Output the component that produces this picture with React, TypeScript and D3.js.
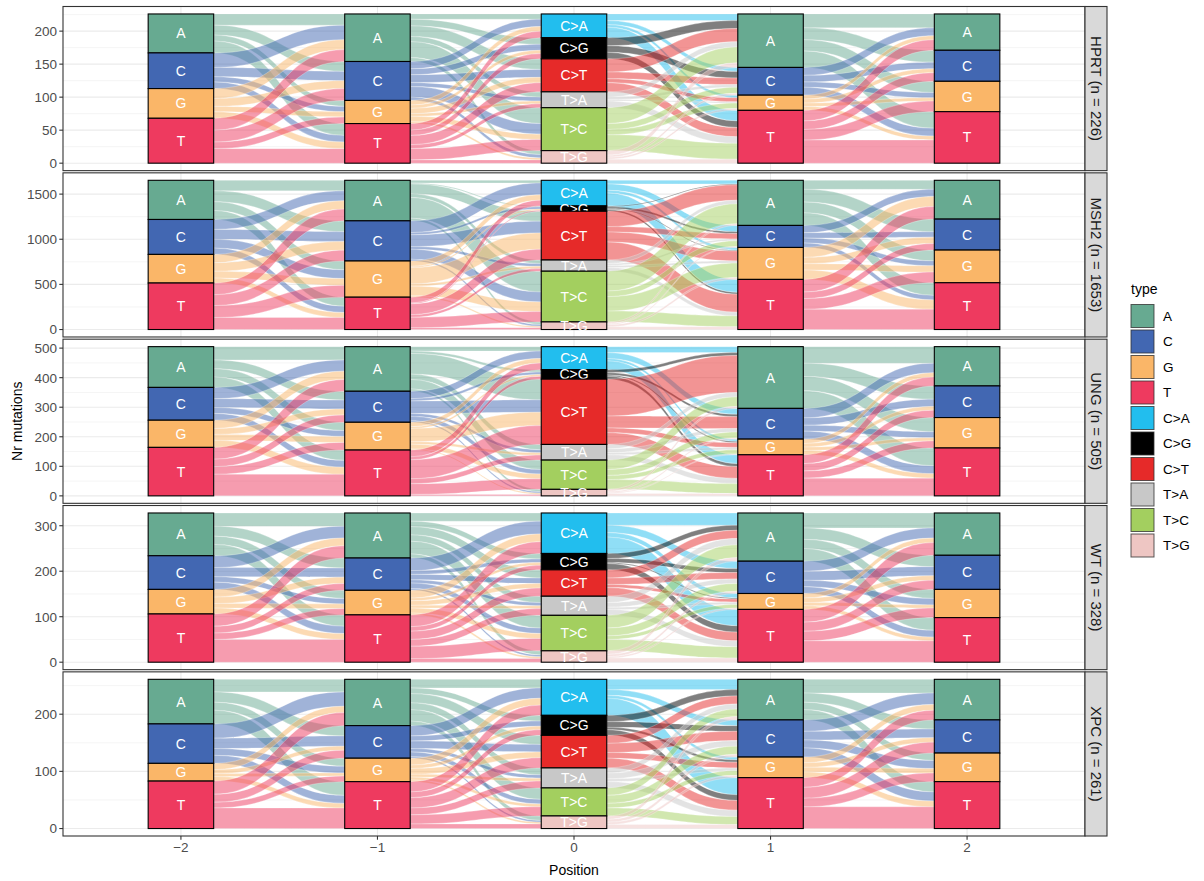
import React from "react";
import * as d3 from "d3";

// ---------- data ----------
const positions = [-2, -1, 0, 1, 2];
const baseTypes = ["A", "C", "G", "T"];
const mutTypes = ["C>A", "C>G", "C>T", "T>A", "T>C", "T>G"];
const legendTypes = ["A", "C", "G", "T", "C>A", "C>G", "C>T", "T>A", "T>C", "T>G"];
const legendColors = [
  "#67AA91", "#4267B2", "#FAB668", "#EE3A5F",
  "#22BEEE", "#000000", "#E62A29", "#C8C8C8", "#A3CF5F", "#EEC6C3",
];
const facetNames = ["HPRT", "MSH2", "UNG", "WT", "XPC"];

// y-axis tick labels per facet
const hprtTicks = [0, 50, 100, 150, 200];
const msh2Ticks = [0, 500, 1000, 1500];
const ungTicks = [0, 100, 200, 300, 400, 500];
const wtTicks = [0, 100, 200, 300];
const xpcTicks = [0, 100, 200];

// Flow counts between neighbouring positions, rows = left strata, cols = right strata.
// Order per facet: (-2 -> -1), (-1 -> 0), (0 -> 1), (1 -> 2)
const hprtFlows = [
  [[17, 15, 9, 18], [22, 14, 8, 10], [15, 12, 8, 10], [18, 18, 10, 22]],
  [[8, 10, 16, 8, 24, 6], [11, 9, 12, 6, 16, 5], [7, 5, 8, 4, 8, 3], [10, 8, 14, 6, 17, 5]],
  [[10, 6, 4, 16], [12, 10, 0, 10], [20, 10, 6, 14], [8, 4, 2, 10], [24, 9, 8, 24], [7, 3, 3, 6]],
  [[21, 18, 17, 25], [12, 10, 8, 12], [6, 6, 5, 6], [16, 13, 16, 35]],
];
const msh2Flows = [
  [[117, 120, 97, 100], [110, 110, 97, 70], [92, 95, 75, 55], [130, 120, 132, 133]],
  [[30, 10, 110, 40, 230, 29], [130, 25, 130, 30, 110, 20], [60, 14, 180, 25, 107, 15], [64, 10, 120, 29, 115, 20]],
  [[40, 70, 30, 144], [10, 20, 9, 20], [170, 60, 110, 200], [40, 20, 24, 40], [220, 62, 160, 120], [20, 12, 21, 31]],
  [[100, 140, 120, 140], [80, 60, 54, 50], [110, 70, 70, 104], [140, 73, 118, 224]],
];
const ungFlows = [
  [[45, 30, 28, 35], [38, 30, 20, 23], [28, 20, 20, 24], [40, 25, 26, 73]],
  [[15, 8, 70, 18, 32, 8], [25, 8, 42, 10, 15, 5], [15, 6, 45, 8, 16, 4], [23, 10, 64, 17, 36, 5]],
  [[20, 20, 8, 30], [10, 8, 4, 10], [125, 40, 16, 40], [15, 12, 8, 18], [32, 20, 14, 33], [7, 4, 3, 8]],
  [[56, 45, 48, 60], [32, 25, 20, 27], [15, 12, 11, 15], [30, 25, 24, 60]],
];
const wtFlows = [
  [[29, 22, 18, 25], [26, 20, 12, 16], [17, 14, 10, 13], [27, 15, 14, 50]],
  [[18, 12, 18, 14, 28, 9], [28, 8, 12, 7, 12, 4], [17, 6, 10, 6, 11, 4], [26, 10, 18, 15, 27, 8]],
  [[27, 16, 10, 36], [11, 9, 2, 14], [18, 14, 7, 19], [14, 10, 5, 13], [28, 17, 8, 25], [8, 5, 3, 9]],
  [[33, 25, 20, 28], [22, 20, 14, 15], [10, 10, 7, 8], [28, 20, 21, 47]],
];
const xpcFlows = [
  [[22, 18, 14, 24], [25, 18, 12, 14], [11, 7, 5, 8], [23, 14, 10, 36]],
  [[15, 10, 16, 12, 20, 8], [18, 9, 13, 6, 8, 3], [12, 6, 10, 5, 5, 3], [18, 10, 18, 12, 16, 8]],
  [[18, 10, 5, 30], [11, 10, 4, 10], [14, 16, 10, 17], [9, 10, 5, 11], [13, 14, 8, 14], [6, 5, 4, 7]],
  [[24, 16, 13, 18], [20, 15, 14, 16], [10, 8, 8, 10], [17, 19, 15, 38]],
];

const facetFlows = [hprtFlows, msh2Flows, ungFlows, wtFlows, xpcFlows];
const facetTicks = [hprtTicks, msh2Ticks, ungTicks, wtTicks, xpcTicks];

// ---------- layout ----------
const W = 1204;
const H = 881;
const FONT = "'Liberation Sans', Arial, Helvetica, sans-serif";
const panelLeft = 63;
const panelRight = 1085;
const stripW = 22;
const plotTop = 6.5;
const plotBottom = 836;
const panelGap = 2.2;
const panelH = (plotBottom - plotTop - panelGap * 4) / 5;
const boxHalf = 1 / 6;

const color = d3.scaleOrdinal<string, string>().domain(legendTypes).range(legendColors);
const x = d3.scaleLinear().domain([-2.6, 2.6]).range([panelLeft, panelRight]);
const categoriesAt = (k: number) => (positions[k] === 0 ? mutTypes : baseTypes);

function stratumSizes(flows: number[][][]): number[][] {
  const out = [flows[0].map((r) => d3.sum(r))];
  flows.forEach((m) => out.push(m[0].map((_, j) => d3.sum(m, (r) => r[j]))));
  return out;
}

function stackTops(sizes: number[], total: number): number[] {
  const tops: number[] = [];
  let c = total;
  sizes.forEach((s) => {
    tops.push(c);
    c -= s;
  });
  return tops;
}

function Facet({ index }: { index: number }) {
  const flows = facetFlows[index];
  const sizes = stratumSizes(flows);
  const total = d3.sum(sizes[0]);
  const top = plotTop + index * (panelH + panelGap);
  const bottom = top + panelH;
  const y = d3.scaleLinear().domain([-0.05 * total, 1.05 * total]).range([bottom, top]);
  const ticks = facetTicks[index];
  const step = ticks[1] - ticks[0];
  const minor = d3
    .range(ticks[0] - step / 2, ticks[ticks.length - 1] + step, step)
    .filter((v) => v > y.domain()[0] && v < y.domain()[1]);

  // flows between neighbouring positions, coloured by the left stratum
  const flowPaths: { d: string; fill: string; key: string }[] = [];
  flows.forEach((m, k) => {
    const lTops = stackTops(sizes[k], total);
    const rTops = stackTops(sizes[k + 1], total);
    const leftAt = m.map((r) => r.map(() => 0));
    const rightAt = m.map((r) => r.map(() => 0));
    m.forEach((r, i) => {
      let c = lTops[i];
      r.forEach((v, j) => {
        leftAt[i][j] = c;
        c -= v;
      });
    });
    m[0].forEach((_, j) => {
      let c = rTops[j];
      m.forEach((r, i) => {
        rightAt[i][j] = c;
        c -= r[j];
      });
    });
    const x0 = x(positions[k] + boxHalf);
    const x1 = x(positions[k + 1] - boxHalf);
    const xm = (x0 + x1) / 2;
    const cats = categoriesAt(k);
    m.forEach((r, i) =>
      r.forEach((v, j) => {
        if (v <= 0) return;
        const lt = leftAt[i][j];
        const rt = rightAt[i][j];
        const p = d3.path();
        p.moveTo(x0, y(lt));
        p.bezierCurveTo(xm, y(lt), xm, y(rt), x1, y(rt));
        p.lineTo(x1, y(rt - v));
        p.bezierCurveTo(xm, y(rt - v), xm, y(lt - v), x0, y(lt - v));
        p.closePath();
        flowPaths.push({ d: p.toString(), fill: color(cats[i]), key: `${k}-${i}-${j}` });
      })
    );
  });

  const label = `${facetNames[index]} (n = ${total})`;
  const cy = (top + bottom) / 2;

  return (
    <g>
      <rect x={panelLeft} y={top} width={panelRight - panelLeft} height={panelH} fill="#FFFFFF" />
      {minor.map((v) => (
        <line key={`mn${v}`} x1={panelLeft} x2={panelRight} y1={y(v)} y2={y(v)} stroke="#EBEBEB" strokeWidth={0.55} />
      ))}
      {ticks.map((v) => (
        <line key={`mj${v}`} x1={panelLeft} x2={panelRight} y1={y(v)} y2={y(v)} stroke="#EBEBEB" strokeWidth={1.1} />
      ))}
      {positions.map((p) => (
        <line key={`vx${p}`} x1={x(p)} x2={x(p)} y1={top} y2={bottom} stroke="#EBEBEB" strokeWidth={1.1} />
      ))}
      <g>
        {flowPaths.map((f) => (
          <path
            key={f.key}
            d={f.d}
            fill={f.fill}
            fillOpacity={0.5}
            stroke="#FFFFFF"
            strokeOpacity={0.45}
            strokeWidth={0.6}
          />
        ))}
      </g>
      {sizes.map((s, k) => {
        const cats = categoriesAt(k);
        const tops = stackTops(s, total);
        return (
          <g key={`st${k}`}>
            {s.map((v, i) => (
              <g key={cats[i]}>
                <rect
                  x={x(positions[k] - boxHalf)}
                  y={y(tops[i])}
                  width={x(positions[k] + boxHalf) - x(positions[k] - boxHalf)}
                  height={y(tops[i] - v) - y(tops[i])}
                  fill={color(cats[i])}
                  stroke="#000000"
                  strokeWidth={1.1}
                />
                <text
                  x={x(positions[k])}
                  y={(y(tops[i]) + y(tops[i] - v)) / 2}
                  dy="0.36em"
                  textAnchor="middle"
                  fontSize={14}
                  fill="#FFFFFF"
                  fontFamily={FONT}
                >
                  {cats[i]}
                </text>
              </g>
            ))}
          </g>
        );
      })}
      <rect x={panelLeft} y={top} width={panelRight - panelLeft} height={panelH} fill="none" stroke="#333333" strokeWidth={1.1} />
      {/* y axis */}
      {ticks.map((v) => (
        <g key={`yt${v}`}>
          <line x1={panelLeft - 3.7} x2={panelLeft} y1={y(v)} y2={y(v)} stroke="#333333" strokeWidth={1.1} />
          <text x={panelLeft - 6} y={y(v)} dy="0.36em" textAnchor="end" fontSize={13.5} fill="#4D4D4D" fontFamily={FONT}>
            {v}
          </text>
        </g>
      ))}
      {/* facet strip */}
      <rect x={panelRight} y={top} width={stripW} height={panelH} fill="#D9D9D9" stroke="#333333" strokeWidth={1.1} />
      <text
        transform={`translate(${panelRight + stripW / 2},${cy}) rotate(90)`}
        textAnchor="middle"
        dy="0.36em"
        fontSize={15}
        fill="#1A1A1A"
        fontFamily={FONT}
      >
        {label}
      </text>
    </g>
  );
}

export default function App() {
  const legendX = 1131;
  const legendY = 304.5;
  const keyStep = 25.5;
  return (
    <svg
      width={W}
      height={H}
      viewBox={`0 0 ${W} ${H}`}
      style={{ position: "absolute", left: 0, top: 0, background: "#FFFFFF" }}
      fontFamily={FONT}
    >
      <rect width={W} height={H} fill="#FFFFFF" />
      {facetNames.map((_, i) => (
        <Facet key={facetNames[i]} index={i} />
      ))}
      {/* x axis */}
      {positions.map((p) => (
        <g key={`xt${p}`}>
          <line x1={x(p)} x2={x(p)} y1={plotBottom} y2={plotBottom + 3.7} stroke="#333333" strokeWidth={1.1} />
          <text x={x(p)} y={plotBottom + 16} textAnchor="middle" fontSize={13.5} fill="#4D4D4D" fontFamily={FONT}>
            {p < 0 ? `\u2212${Math.abs(p)}` : `${p}`}
          </text>
        </g>
      ))}
      <text x={(panelLeft + panelRight) / 2} y={875} textAnchor="middle" fontSize={14} fill="#000000" fontFamily={FONT}>
        Position
      </text>
      <text
        transform={`translate(22,${(plotTop + plotBottom) / 2}) rotate(-90)`}
        textAnchor="middle"
        fontSize={14}
        fill="#000000"
        fontFamily={FONT}
      >
        Nr mutations
      </text>
      {/* legend */}
      <text x={legendX} y={294} fontSize={14} fill="#000000" fontFamily={FONT}>
        type
      </text>
      {legendTypes.map((t, i) => (
        <g key={`lg${t}`}>
          <rect
            x={legendX}
            y={legendY + i * keyStep}
            width={23}
            height={23}
            fill={color(t)}
            stroke="#333333"
            strokeOpacity={0.8}
            strokeWidth={1}
          />
          <text
            x={legendX + 32}
            y={legendY + i * keyStep + 11.5}
            dy="0.36em"
            fontSize={13.5}
            fill="#000000"
            fontFamily={FONT}
          >
            {t}
          </text>
        </g>
      ))}
    </svg>
  );
}
